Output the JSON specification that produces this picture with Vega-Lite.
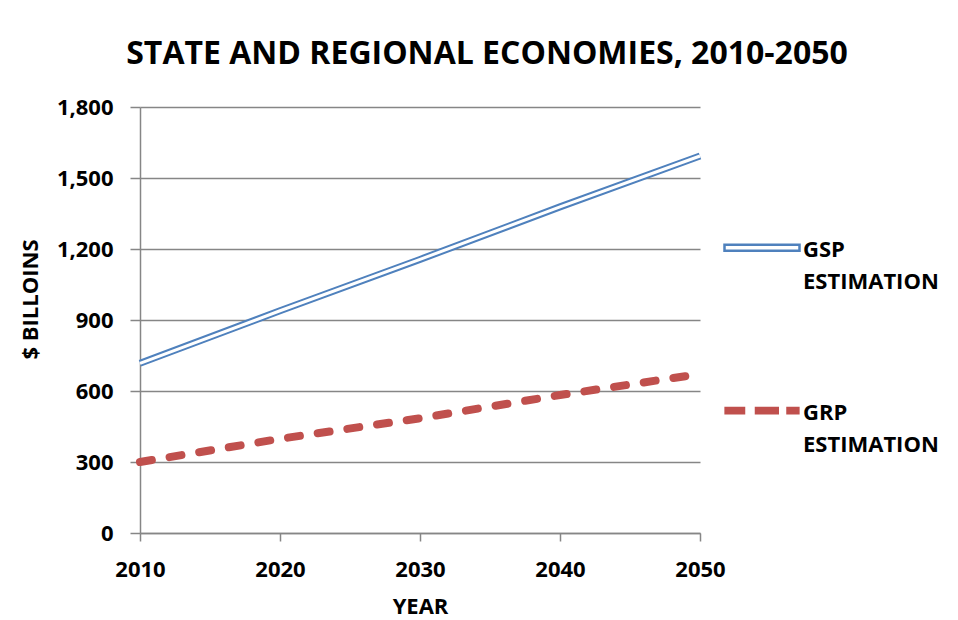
{
  "$schema": "https://vega.github.io/schema/vega-lite/v6.json",
  "autosize": {"type": "none"},
  "width": 560,
  "height": 426,
  "padding": {"left": 140, "top": 107, "right": 258, "bottom": 87},
  "background": "white",
  "title": {
    "text": "STATE AND REGIONAL ECONOMIES, 2010-2050",
    "font": "Open Sans",
    "fontSize": 32,
    "fontWeight": "bold",
    "color": "#000000",
    "anchor": "middle",
    "frame": "group",
    "dx": 67,
    "offset": 25
  },
  "data": {
    "values": [
      {"series": "GSP", "year": 2010, "value": 717},
      {"series": "GSP", "year": 2020, "value": 939},
      {"series": "GSP", "year": 2030, "value": 1156},
      {"series": "GSP", "year": 2040, "value": 1378},
      {"series": "GSP", "year": 2050, "value": 1593},
      {"series": "GRP", "year": 2010, "value": 300},
      {"series": "GRP", "year": 2020, "value": 398},
      {"series": "GRP", "year": 2030, "value": 485},
      {"series": "GRP", "year": 2040, "value": 583},
      {"series": "GRP", "year": 2050, "value": 672}
    ]
  },
  "encoding": {
    "x": {
      "field": "year", "type": "quantitative",
      "scale": {"domain": [2010, 2050], "nice": false, "zero": false},
      "axis": {
        "values": [2010, 2020, 2030, 2040, 2050], "format": "d", "grid": false,
        "labelFlush": false, "labelOverlap": false,
        "title": "YEAR", "tickSize": 8, "labelPadding": 18, "titlePadding": 16
      }
    },
    "y": {
      "field": "value", "type": "quantitative",
      "scale": {"domain": [0, 1800], "nice": false},
      "axis": {
        "values": [0, 300, 600, 900, 1200, 1500, 1800], "format": ",.0f", "grid": true,
        "labelFlush": false, "labelOverlap": false,
        "title": "$ BILLOINS", "tickSize": 10, "labelPadding": 17, "titlePadding": 14,
        "titleY": 192
      }
    }
  },
  "layer": [
    {
      "transform": [{"filter": "datum.series === 'GSP'"}],
      "mark": {"type": "line", "strokeCap": "butt", "strokeJoin": "miter"},
      "encoding": {
        "strokeWidth": {"value": 7},
        "color": {
          "field": "series", "type": "nominal",
          "scale": {"domain": ["GSP", "GRP"], "range": ["#4f81bd", "#c0504d"]},
          "legend": {
            "orient": "none", "legendX": 583, "legendY": 111, "title": null,
            "symbolType": {"expr": "datum.value === 'GSP' ? 'M-1,-0.33H1V-0.17H-1Z' : 'M-0.97,-0.32H-0.48V-0.18H-0.97Z M-0.16,-0.32H0.42V-0.18H-0.16Z M0.68,-0.32H0.97V-0.18H0.68Z'"},
            "symbolSize": 5625,
            "symbolStrokeWidth": 2.5,
            "symbolFillColor": {"expr": "datum.value === 'GSP' ? 'transparent' : '#c0504d'"},
            "labelExpr": "[datum.label, 'ESTIMATION']",
            "labelFont": "Open Sans", "labelFontSize": 22, "labelFontWeight": "bold",
            "labelColor": "#000000", "labelBaseline": "alphabetic", "labelOffset": 2,
            "labelLimit": 300, "rowPadding": 88
          }
        }
      }
    },
    {
      "transform": [{"filter": "datum.series === 'GSP'"}],
      "mark": {"type": "line", "color": "#ffffff", "strokeWidth": 3, "strokeCap": "butt"},
      "encoding": {}
    },
    {
      "transform": [{"filter": "datum.series === 'GRP'"}],
      "mark": {"type": "line", "strokeCap": "round"},
      "encoding": {
        "strokeWidth": {"value": 8},
        "strokeDash": {"value": [12, 18]},
        "color": {"field": "series", "type": "nominal"}
      }
    }
  ],
  "config": {
    "view": {"stroke": null},
    "font": "Open Sans",
    "style": {"guide-label": {"lineHeight": 32}},
    "axis": {
      "domainColor": "#868686", "domainWidth": 1.5,
      "tickColor": "#868686", "tickWidth": 1.5,
      "gridColor": "#868686", "gridWidth": 1.5, "gridOpacity": 1,
      "labelFont": "Open Sans", "labelFontSize": 22, "labelFontWeight": "bold", "labelColor": "#000000",
      "titleFont": "Open Sans", "titleFontSize": 22, "titleFontWeight": "bold", "titleColor": "#000000"
    }
  }
}
